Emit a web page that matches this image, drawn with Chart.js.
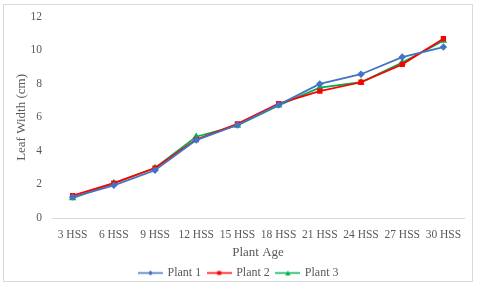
<!DOCTYPE html>
<html>
<head>
<meta charset="utf-8">
<script src="https://cdn.jsdelivr.net/npm/chart.js@4"></script>
<style>
html,body{margin:0;padding:0;background:#fff;}
canvas{display:block;}
</style>
</head>
<body>
<canvas id="c" width="480" height="286"></canvas>
<script>
const categories = ["3 HSS","6 HSS","9 HSS","12 HSS","15 HSS","18 HSS","21 HSS","24 HSS","27 HSS","30 HSS"];
const plant1 = [1.25, 1.95, 2.85, 4.65, 5.55, 6.75, 8.0, 8.58, 9.6, 10.2];
const plant2 = [1.33, 2.08, 2.98, 4.68, 5.62, 6.82, 7.57, 8.1, 9.17, 10.7];
const plant3 = [1.19, 2.08, 2.98, 4.85, 5.52, 6.72, 7.78, 8.1, 9.27, 10.58];
const seriesNames = ["Plant 1","Plant 2","Plant 3"];
const yTicks = [0,2,4,6,8,10,12];

const colors = ["#4472C4","#FF0000","#00B050"];
const styles = ["rectRot","rect","triangle"];

function legendIcon(color, style){
  const cv = document.createElement('canvas');
  cv.width = 25; cv.height = 7;
  const g = cv.getContext('2d');
  g.strokeStyle = color; g.lineWidth = 1.5;
  g.beginPath(); g.moveTo(0,3.5); g.lineTo(25,3.5); g.stroke();
  g.fillStyle = color;
  g.beginPath();
  if(style==='rectRot'){ g.moveTo(12.5,1); g.lineTo(15,3.5); g.lineTo(12.5,6); g.lineTo(10,3.5); }
  else if(style==='rect'){ g.rect(10.5,1.5,4,4); }
  else { g.moveTo(12.5,1); g.lineTo(15,6); g.lineTo(10,6); }
  g.closePath(); g.fill();
  return cv;
}

const frame = {
  id:'frame',
  beforeDraw(chart){
    const ctx = chart.ctx;
    ctx.save();
    ctx.fillStyle='#fff'; ctx.fillRect(0,0,480,286);
    ctx.strokeStyle='#d9d9d9'; ctx.lineWidth=1;
    ctx.strokeRect(3.5,4.5,469,277);
    ctx.restore();
  }
};

const serif = "'Liberation Serif','Times New Roman',serif";
const datasets = [plant1,plant2,plant3].map((d,i)=>({
  label: seriesNames[i],
  data: d,
  borderColor: colors[i],
  backgroundColor: colors[i],
  borderWidth: 1.8,
  pointStyle: styles[i],
  pointRadius: 2.5,
  pointHoverRadius: 2.5,
  tension: 0,
  legendIcon: legendIcon(colors[i], styles[i])
}));

new Chart(document.getElementById('c'), {
  type:'line',
  data:{labels:categories, datasets},
  plugins:[frame],
  options:{
    responsive:false,
    animation:false,
    layout:{padding:{left:14,right:16,top:9,bottom:-3}},
    plugins:{
      tooltip:{enabled:false},
      legend:{
        position:'bottom',
        labels:{
          usePointStyle:true,
          pointStyleWidth:22,
          padding:7,
          color:'#595959',
          font:{family:serif,size:12},
          generateLabels(chart){
            return chart.data.datasets.map((ds,i)=>({
              text: ds.label, pointStyle: ds.legendIcon, fillStyle: ds.borderColor,
              strokeStyle: ds.borderColor, lineWidth:0, hidden:false, datasetIndex:i, fontColor:'#595959'
            }));
          }
        }
      }
    },
    scales:{
      x:{
        offset:true,
        grid:{display:false, drawTicks:false},
        border:{display:true,color:'#d9d9d9',width:1},
        ticks:{color:'#595959',font:{family:serif,size:11.5},padding:10,maxRotation:0,autoSkip:false},
        title:{display:true,text:'Plant Age',color:'#595959',font:{family:serif,size:13},padding:{top:0,bottom:0}},
        afterFit(s){ s.height = 42; }
      },
      y:{
        min:0,max:12,
        afterBuildTicks(s){ s.ticks = yTicks.map(v=>({value:v})); },
        grid:{display:false, drawTicks:false},
        border:{display:false},
        ticks:{color:'#595959',font:{family:serif,size:11.5},padding:10},
        title:{display:true,text:'Leaf Width (cm)',color:'#595959',font:{family:serif,size:13},padding:{top:0,bottom:6}},
        afterFit(s){ s.width = 38; }
      }
    }
  }
});
</script>
</body>
</html>
